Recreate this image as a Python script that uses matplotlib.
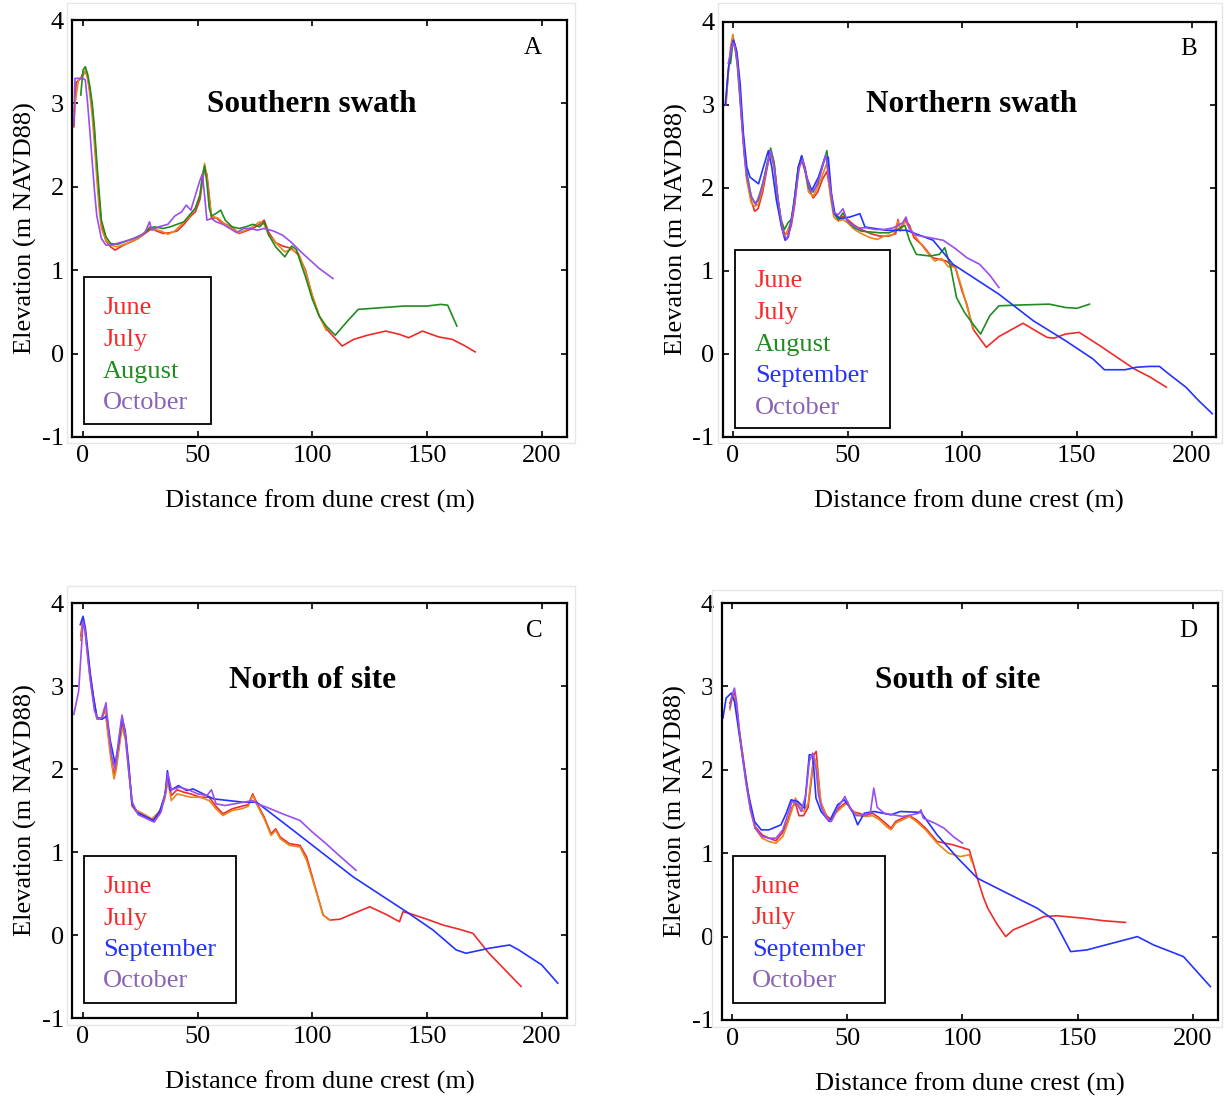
import numpy as np
import matplotlib
matplotlib.use("Agg")
import matplotlib.pyplot as plt
from matplotlib.patches import Rectangle

plt.rcParams["font.family"] = ["Liberation Serif", "DejaVu Serif"]
plt.rcParams["axes.unicode_minus"] = False

# ---- profile data (distance m, elevation m NAVD88) ----
A_june = [(-4, 2.72), (-3, 3.25), (-1, 3.30), (0, 3.36), (1, 3.38), (2, 3.32), (3, 3.15), (4, 2.95), (5, 2.62),
          (6, 2.2), (7, 1.85), (8, 1.55), (10, 1.35), (12, 1.28), (14, 1.24), (17, 1.29), (20, 1.33), (24, 1.38),
          (27, 1.44), (30, 1.50), (32, 1.47), (35, 1.44), (38, 1.45), (41, 1.47), (44, 1.55), (47, 1.65), (49, 1.70),
          (51, 1.85), (52, 2.05), (53, 2.22), (54, 2.15), (55, 1.90), (56, 1.62), (58, 1.63), (60, 1.58), (63, 1.54),
          (66, 1.49), (68, 1.44), (71, 1.47), (74, 1.50), (77, 1.55), (79, 1.60), (81, 1.45), (84, 1.33), (87, 1.29),
          (91, 1.26), (94, 1.18), (97, 1.0), (100, 0.68), (103, 0.45), (106, 0.30), (110, 0.18), (113, 0.09),
          (118, 0.17), (124, 0.22), (132, 0.27), (138, 0.23), (142, 0.19), (148, 0.27), (155, 0.20), (161, 0.17),
          (166, 0.10), (171, 0.02)]
A_july = [(-4, 2.9), (-2, 3.28), (0, 3.33), (1, 3.40), (2, 3.30), (3, 3.10), (4, 2.85), (5, 2.5), (6, 2.1), (7, 1.75),
          (8, 1.5), (10, 1.36), (12, 1.30), (15, 1.28), (18, 1.31), (22, 1.35), (26, 1.42), (29, 1.52), (31, 1.49),
          (34, 1.47), (37, 1.43), (40, 1.47), (43, 1.55), (46, 1.63), (49, 1.75), (51, 1.9), (52, 2.1), (53, 2.28),
          (54, 2.12), (55, 1.85), (56, 1.65), (59, 1.62), (62, 1.55), (65, 1.50), (68, 1.45), (71, 1.48), (74, 1.52),
          (77, 1.58), (79, 1.55), (81, 1.42), (84, 1.33), (88, 1.22), (91, 1.25), (94, 1.20), (97, 0.98), (100, 0.70),
          (103, 0.45), (106, 0.28)]
A_august = [(-1, 3.1), (0, 3.40), (1, 3.44), (2, 3.35), (3, 3.20), (4, 3.0), (5, 2.7), (6, 2.3), (7, 1.95), (8, 1.6),
            (10, 1.40), (12, 1.32), (15, 1.31), (18, 1.34), (22, 1.38), (26, 1.43), (29, 1.50), (31, 1.52), (35, 1.50),
            (38, 1.52), (41, 1.55), (44, 1.58), (47, 1.68), (49, 1.74), (51, 1.90), (52, 2.12), (53, 2.25), (54, 2.05),
            (55, 1.75), (56, 1.65), (58, 1.68), (60, 1.72), (62, 1.60), (65, 1.52), (68, 1.50), (71, 1.52), (74, 1.55),
            (77, 1.52), (79, 1.58), (81, 1.42), (84, 1.28), (88, 1.16), (91, 1.29), (93, 1.25), (95, 1.08), (97, 0.92),
            (100, 0.65), (103, 0.45), (106, 0.33), (110, 0.22), (115, 0.38), (120, 0.53), (130, 0.55), (140, 0.57),
            (150, 0.57), (156, 0.59), (159, 0.58), (163, 0.33)]
A_october = [(-4, 2.74), (-3.5, 3.30), (0, 3.30), (1, 3.28), (2, 3.0), (3, 2.66), (4, 2.3), (5, 1.95), (6, 1.65),
             (8, 1.38), (10, 1.30), (12, 1.30), (16, 1.33), (20, 1.36), (24, 1.40), (27, 1.45), (29, 1.58), (30, 1.48),
             (33, 1.52), (37, 1.55), (40, 1.65), (43, 1.70), (45, 1.78), (47, 1.72), (49, 1.90), (51, 2.08), (52, 2.15),
             (53, 1.90), (54, 1.60), (56, 1.62), (58, 1.58), (61, 1.55), (64, 1.50), (67, 1.45), (70, 1.50), (73, 1.50),
             (76, 1.48), (79, 1.50), (83, 1.47), (87, 1.42), (91, 1.33), (95, 1.22), (99, 1.12), (103, 1.02),
             (106, 0.96), (109, 0.90)]

B_june = [(-3, 3.0), (-2, 3.4), (-1, 3.65), (0, 3.8), (1, 3.72), (2, 3.55), (3, 3.2), (4, 2.8), (5, 2.45), (6, 2.15),
          (8, 1.85), (9.5, 1.72), (11, 1.75), (13, 1.95), (15, 2.25), (16.5, 2.45), (18, 2.3), (19.5, 1.9), (21, 1.6),
          (22.5, 1.45), (24, 1.45), (25.5, 1.55), (27, 1.8), (28.5, 2.2), (30, 2.35), (31.5, 2.25), (33, 2.0),
          (35, 1.88), (37, 1.95), (39, 2.1), (41, 2.2), (42.5, 1.95), (44, 1.7), (46, 1.62), (48, 1.66), (50, 1.62),
          (53, 1.55), (56, 1.50), (60, 1.45), (64, 1.42), (68, 1.42), (71, 1.45), (72, 1.62), (73, 1.50), (75, 1.62),
          (77, 1.55), (79, 1.40), (83, 1.30), (87, 1.16), (90, 1.14), (93, 1.12), (97, 1.04), (100, 0.75), (102, 0.60),
          (104.7, 0.30), (110.5, 0.08), (116, 0.21), (126.5, 0.37), (132, 0.28), (137, 0.20), (140, 0.19), (145, 0.24),
          (151, 0.26), (160, 0.10), (168, -0.05), (175, -0.18), (182, -0.28), (189, -0.40)]
B_july = [(-3, 3.05), (-1, 3.7), (0, 3.85), (1, 3.68), (2, 3.45), (3, 3.1), (4, 2.75), (5, 2.4), (6, 2.1), (8, 1.82),
          (9.5, 1.78), (11, 1.80), (13, 2.0), (15, 2.3), (16.5, 2.42), (18, 2.25), (19.5, 1.85), (21, 1.55),
          (22.5, 1.40), (24, 1.50), (25.5, 1.60), (27, 1.85), (28.5, 2.25), (30, 2.32), (31.5, 2.2), (33, 1.95),
          (35, 1.90), (37, 2.0), (39, 2.15), (41, 2.3), (42.5, 1.9), (44, 1.65), (46, 1.60), (48, 1.62), (50, 1.58),
          (53, 1.50), (56, 1.45), (60, 1.40), (63, 1.38), (66, 1.42), (70, 1.44), (72, 1.60), (73, 1.48), (75, 1.60),
          (77, 1.52), (80, 1.40), (84, 1.25), (88, 1.12), (91, 1.15), (94, 1.05), (97, 1.05), (100, 0.78),
          (103, 0.48), (105, 0.30)]
B_august = [(-1, 3.5), (0, 3.75), (1, 3.70), (2, 3.5), (3, 3.15), (4, 2.8), (5, 2.45), (6, 2.2), (8, 1.9), (9.5, 1.82),
            (11, 1.85), (13, 2.05), (15, 2.3), (16.5, 2.48), (18, 2.3), (19.5, 1.9), (21, 1.62), (22.5, 1.50),
            (24, 1.58), (25.5, 1.62), (27, 1.9), (28.5, 2.25), (30, 2.38), (31.5, 2.22), (33, 2.0), (35, 1.95),
            (37, 2.05), (39, 2.25), (41, 2.45), (42.5, 2.0), (44, 1.7), (46, 1.62), (48, 1.7), (50, 1.60), (53, 1.52),
            (56, 1.48), (60, 1.47), (64, 1.46), (68, 1.46), (72, 1.50), (75, 1.55), (77, 1.37), (80, 1.20), (86, 1.18),
            (90, 1.20), (92.4, 1.28), (95, 1.04), (97.5, 0.68), (101, 0.50), (104.7, 0.36), (108, 0.24), (112, 0.46),
            (116, 0.58), (125, 0.59), (138, 0.60), (145, 0.56), (150, 0.55), (155.5, 0.60)]
B_september = [(-3.3, 3.0), (-1.9, 3.45), (-0.4, 3.73), (0.3, 3.78), (1.7, 3.65), (3.2, 3.25), (4.6, 2.65),
               (6.1, 2.25), (7.5, 2.13), (11.2, 2.05), (13.3, 2.25), (15.5, 2.45), (17, 2.25), (19, 1.85),
               (21.3, 1.53), (22.8, 1.37), (24.2, 1.41), (26.4, 1.77), (28.6, 2.25), (30, 2.39), (32.2, 2.13),
               (34.4, 1.97), (37.3, 2.13), (40.2, 2.37), (41.6, 2.37), (43, 1.93), (44.5, 1.69), (46.7, 1.63),
               (51, 1.65), (55.4, 1.69), (57.6, 1.53), (67, 1.49), (75.7, 1.49), (87.3, 1.37), (96, 1.08), (116, 0.72),
               (131, 0.40), (145, 0.16), (157, -0.06), (162, -0.19), (171, -0.19), (176, -0.16), (181.6, -0.15),
               (186, -0.15), (190, -0.24), (197.5, -0.40), (203, -0.56), (209, -0.72)]
B_october = [(-2, 3.5), (0, 3.75), (1, 3.70), (2, 3.5), (3, 3.15), (4, 2.75), (5, 2.4), (6, 2.15), (8, 1.9),
             (10, 1.80), (12, 1.95), (14, 2.15), (16.5, 2.45), (18, 2.25), (20, 1.8), (22, 1.45), (23.5, 1.38),
             (25, 1.50), (27, 1.85), (29, 2.25), (30.5, 2.35), (32, 2.15), (34, 1.95), (36, 2.0), (38, 2.15),
             (40.5, 2.40), (42.5, 2.0), (44, 1.70), (46, 1.68), (48, 1.75), (50, 1.60), (54, 1.52), (58, 1.52),
             (62, 1.50), (66, 1.50), (70, 1.52), (74, 1.58), (75.5, 1.65), (77, 1.50), (80, 1.43), (86, 1.40),
             (91.7, 1.37), (97, 1.27), (102, 1.16), (107.6, 1.08), (112, 0.95), (116, 0.80)]

C_june = [(-1, 3.6), (0, 3.82), (1, 3.65), (2, 3.4), (3, 3.15), (4.6, 2.85), (6, 2.62), (8, 2.60), (9.5, 2.72),
          (10.5, 2.55), (12, 2.20), (13.5, 1.92), (14.5, 2.05), (16, 2.35), (17, 2.55), (18.5, 2.40), (20, 2.0),
          (21.5, 1.55), (23.5, 1.48), (27, 1.42), (30, 1.38), (33, 1.45), (35.5, 1.65), (37, 1.92), (38.5, 1.68),
          (41, 1.75), (44, 1.72), (47, 1.70), (51, 1.66), (55, 1.66), (58, 1.55), (61, 1.46), (65, 1.52), (69, 1.55),
          (72, 1.57), (74, 1.70), (76, 1.58), (79, 1.42), (82, 1.22), (84, 1.28), (86, 1.18), (88, 1.14), (90, 1.10),
          (94.6, 1.08), (97.5, 0.94), (101, 0.60), (104.7, 0.24), (107.6, 0.18), (112, 0.19), (118, 0.26),
          (125, 0.34), (132, 0.25), (138, 0.16), (139.5, 0.28), (142.4, 0.26), (150, 0.19), (157, 0.12), (164, 0.07),
          (170, 0.02), (177, -0.22), (184, -0.42), (191, -0.62)]
C_july = [(-1, 3.55), (0, 3.78), (1, 3.62), (2, 3.38), (3, 3.1), (4.6, 2.82), (6, 2.6), (8, 2.62), (9.5, 2.75),
          (10.5, 2.50), (12, 2.15), (13.5, 1.88), (14.5, 2.0), (16, 2.3), (17, 2.5), (18.5, 2.35), (20, 1.95),
          (21.5, 1.55), (23.5, 1.50), (27, 1.45), (30, 1.40), (33, 1.48), (35.5, 1.62), (37, 1.85), (38.5, 1.62),
          (41, 1.70), (44, 1.68), (47, 1.66), (51, 1.66), (55, 1.62), (58, 1.52), (61, 1.44), (65, 1.50), (69, 1.52),
          (72, 1.55), (74, 1.68), (76, 1.56), (79, 1.40), (82, 1.20), (84, 1.26), (86, 1.16), (88, 1.12), (90, 1.08),
          (94.6, 1.06), (97.5, 0.90), (101, 0.58), (104.7, 0.24), (107.6, 0.18)]
C_september = [(-1.2, 3.74), (0, 3.84), (1, 3.70), (3.2, 3.14), (4.6, 2.86), (6.1, 2.62), (8.3, 2.6), (10.4, 2.64),
               (11.9, 2.34), (14, 2.06), (15.5, 2.30), (17, 2.62), (18.4, 2.46), (19.9, 2.06), (21.3, 1.58),
               (23.5, 1.48), (27.8, 1.42), (30.7, 1.38), (33.6, 1.50), (35.8, 1.70), (36.8, 1.98), (38, 1.74),
               (41.6, 1.80), (45.2, 1.74), (48, 1.76), (56.9, 1.64), (70, 1.60), (75.7, 1.60), (91.7, 1.26),
               (117.8, 0.70), (141, 0.28), (152.6, 0.06), (162.7, -0.18), (167, -0.22), (177, -0.16), (186, -0.12),
               (190, -0.18), (200, -0.36), (207, -0.58)]
C_october = [(-4, 2.66), (-1.9, 2.94), (-0.5, 3.55), (0, 3.78), (1, 3.65), (2, 3.35), (3.5, 3.0), (5, 2.7), (6.5, 2.6),
             (8.5, 2.62), (10, 2.8), (11, 2.5), (12.5, 2.15), (14, 2.0), (15.5, 2.35), (17, 2.65), (18.5, 2.40),
             (20, 1.95), (21.5, 1.60), (24, 1.45), (28, 1.40), (31, 1.36), (34, 1.48), (36, 1.72), (37, 1.95),
             (38.5, 1.75), (42, 1.78), (46, 1.75), (50, 1.70), (54, 1.68), (56, 1.75), (58, 1.58), (62, 1.56),
             (66, 1.58), (70, 1.60), (74, 1.62), (76, 1.58), (80, 1.54), (87, 1.46), (94.6, 1.38), (100, 1.24),
             (106, 1.10), (112, 0.95), (119, 0.78)]

D_june = [(-1, 2.8), (0, 2.88), (1, 2.92), (2, 2.75), (3, 2.5), (4.5, 2.2), (6, 1.9), (8, 1.55), (10, 1.32), (13, 1.22),
          (16, 1.18), (19, 1.15), (22, 1.25), (24, 1.38), (26, 1.55), (27.5, 1.60), (29, 1.45), (31, 1.45), (33, 1.55),
          (34.5, 1.90), (35.5, 2.18), (36.5, 2.22), (37.5, 1.90), (38.5, 1.60), (41, 1.45), (43, 1.40), (45, 1.50),
          (48, 1.58), (50, 1.62), (52, 1.50), (55, 1.48), (58, 1.45), (61, 1.48), (64, 1.42), (67, 1.35), (69, 1.30),
          (71, 1.38), (74, 1.42), (77, 1.45), (80, 1.40), (84, 1.30), (89, 1.14), (96, 1.10), (103, 1.04),
          (106.5, 0.70), (109, 0.48), (111, 0.34), (115, 0.15), (118.8, 0.0), (122, 0.08), (128, 0.15),
          (135.4, 0.24), (141, 0.25), (152.7, 0.22), (161.4, 0.19), (170.8, 0.17)]
D_july = [(-1, 2.72), (0, 2.85), (1, 2.88), (2, 2.72), (3, 2.45), (4.5, 2.2), (6, 1.85), (8, 1.50), (10, 1.30),
          (13, 1.18), (16, 1.14), (19, 1.12), (22, 1.20), (24, 1.35), (26, 1.52), (27.5, 1.66), (29, 1.58), (31, 1.50),
          (33, 1.60), (34.5, 1.95), (35.5, 2.15), (36.5, 2.10), (37.5, 1.85), (38.5, 1.62), (41, 1.42), (43, 1.38),
          (45, 1.48), (48, 1.56), (50, 1.60), (52, 1.52), (55, 1.45), (58, 1.44), (61, 1.45), (64, 1.40), (67, 1.32),
          (69, 1.28), (71, 1.36), (74, 1.40), (77, 1.44), (80, 1.38), (84, 1.28), (89, 1.12), (94, 1.00), (99, 0.96),
          (103, 0.98), (104, 0.90)]
D_september = [(-4, 2.62), (-2.6, 2.86), (-0.4, 2.92), (1, 2.82), (2.5, 2.54), (4.6, 2.14), (6.8, 1.74), (9.7, 1.38),
               (12.6, 1.28), (16, 1.28), (21.2, 1.34), (23.5, 1.48), (25.6, 1.64), (28.5, 1.62), (31.4, 1.54),
               (33.5, 2.18), (35, 2.18), (36.4, 1.66), (38.6, 1.50), (42.2, 1.38), (45.8, 1.58), (48.7, 1.64),
               (52.3, 1.50), (54.5, 1.34), (57.4, 1.48), (61.7, 1.50), (69, 1.46), (73, 1.50), (82, 1.49), (89, 1.22),
               (98, 0.94), (106.5, 0.70), (118, 0.54), (132.5, 0.34), (139.7, 0.20), (147, -0.18), (154, -0.16),
               (165, -0.08), (176, 0.0), (183, -0.10), (196, -0.24), (207.7, -0.60)]
D_october = [(-1, 2.75), (0, 2.90), (1, 2.98), (2, 2.80), (3, 2.5), (4.5, 2.15), (6, 1.85), (8, 1.52), (10, 1.30),
             (13, 1.20), (16, 1.18), (19, 1.18), (22, 1.28), (24, 1.45), (26, 1.62), (28, 1.60), (30, 1.50), (32, 1.70),
             (33.5, 2.10), (35, 2.20), (36.5, 2.0), (37.5, 1.70), (39, 1.52), (41, 1.42), (43, 1.38), (46, 1.55),
             (49, 1.68), (51, 1.55), (54, 1.45), (57, 1.46), (60, 1.48), (61.5, 1.78), (63, 1.55), (66, 1.48),
             (70, 1.46), (74, 1.44), (78, 1.46), (81, 1.48), (82, 1.52), (83, 1.42), (88, 1.36), (92, 1.30),
             (96, 1.20), (100, 1.12)]

line_col = {"June": "#f02a2a", "July": "#e8861c", "August": "#1f8c1f",
            "September": "#2433ff", "October": "#9a4ef0"}
text_col = {"June": "#f52a2a", "July": "#f52a2a", "August": "#1f8c1f",
            "September": "#2433ff", "October": "#8a64b4"}

panels = [
    dict(pos=[0.0588, 0.6024, 0.404, 0.3794], title="Southern swath", letter="A",
         title_xy=(0.485, 0.797), letter_xy=(0.931, 0.933), frame=(67, 3, 575, 443),
         series=[("June", A_june), ("July", A_july), ("August", A_august), ("October", A_october)],
         box=(0.024, 0.031, 0.257, 0.353), text_x=0.063, text_y=[0.310, 0.233, 0.156, 0.082],
         xlim=(-4.8, 211)),
    dict(pos=[0.590, 0.6024, 0.4024, 0.3776], title="Northern swath", letter="B",
         title_xy=(0.505, 0.801), letter_xy=(0.945, 0.935), frame=(718, 3, 1222, 443),
         series=[("June", B_june), ("July", B_july), ("August", B_august), ("September", B_september),
                 ("October", B_october)],
         box=(0.024, 0.022, 0.315, 0.428), text_x=0.065, text_y=[0.376, 0.299, 0.222, 0.147, 0.070],
         xlim=(-4.4, 210.5)),
    dict(pos=[0.0588, 0.0737, 0.404, 0.3776], title="North of site", letter="C",
         title_xy=(0.485, 0.813), letter_xy=(0.935, 0.933), frame=(67, 586, 575, 1025),
         series=[("June", C_june), ("July", C_july), ("September", C_september), ("October", C_october)],
         box=(0.024, 0.036, 0.307, 0.354), text_x=0.063, text_y=[0.316, 0.239, 0.163, 0.089],
         xlim=(-4.8, 211)),
    dict(pos=[0.5894, 0.0719, 0.4049, 0.3794], title="South of site", letter="D",
         title_xy=(0.476, 0.814), letter_xy=(0.94, 0.933), frame=(712, 590, 1222, 1027),
         series=[("June", D_june), ("July", D_july), ("September", D_september), ("October", D_october)],
         box=(0.022, 0.041, 0.307, 0.352), text_x=0.06, text_y=[0.319, 0.245, 0.168, 0.094],
         xlim=(-4.4, 211)),
]

W, H = 1225, 1099
fig = plt.figure(figsize=(W / 100, H / 100), dpi=100)

for p in panels:
    # faint outer frame around each panel
    x0, y0, x1, y1 = p["frame"]
    fig.patches.append(Rectangle((x0 / W, 1 - y1 / H), (x1 - x0) / W, (y1 - y0) / H,
                                 transform=fig.transFigure, fill=False, edgecolor="#e6e6e6", lw=1.0))
    ax = fig.add_axes(p["pos"])
    for name, pts in p["series"]:
        xy = np.array(pts)
        ax.plot(xy[:, 0], xy[:, 1], color=line_col[name], lw=1.2)
    ax.set_xlim(*p["xlim"])
    ax.set_ylim(-1, 4)
    ax.set_xticks([0, 50, 100, 150, 200])
    ax.set_yticks([-1, 0, 1, 2, 3, 4])
    ax.tick_params(direction="in", top=True, right=True, length=4, width=1.2,
                   labelsize=19, pad=6)
    for s in ax.spines.values():
        s.set_linewidth(1.6)
    ax.set_xlabel("Distance from dune crest (m)", fontsize=19, labelpad=16)
    ax.set_ylabel("Elevation (m NAVD88)", fontsize=19, labelpad=3)
    ax.text(*p["title_xy"], p["title"], transform=ax.transAxes, ha="center", va="center",
            fontsize=22.5, fontweight="bold")
    ax.text(*p["letter_xy"], p["letter"], transform=ax.transAxes, ha="center", va="center", fontsize=18)
    bx, by, bw, bh = p["box"]
    ax.add_patch(Rectangle((bx, by), bw, bh, transform=ax.transAxes, fill=True,
                           facecolor="white", edgecolor="black", lw=1.3, zorder=5))
    for (name, _), ty in zip(p["series"], p["text_y"]):
        ax.text(p["text_x"], ty, name, transform=ax.transAxes, color=text_col[name],
                fontsize=19, va="center", ha="left", zorder=6)

fig.savefig("out.png", dpi=100)
